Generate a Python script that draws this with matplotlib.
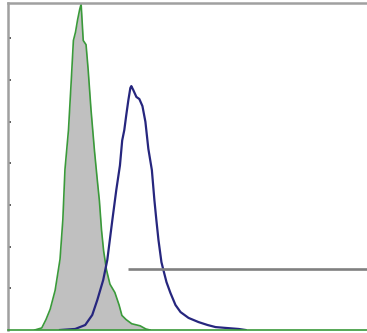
import numpy as np
import matplotlib.pyplot as plt

# Istogramma di citometria: controllo isotipico (verde, riempito) e campione (blu)
control_ch = [19, 24, 27, 30, 33.5, 37, 39, 40.5, 43, 45, 46.5, 48, 49.5, 51, 52,
              53.5, 55.5, 57, 59, 61.5, 63.5, 65, 66.5, 68, 70, 72.5, 76, 79,
              81, 84, 88, 94, 98, 101]
control_cnt = [0, 1, 5, 10, 19, 34, 53, 77, 96, 120, 139, 143, 149, 154, 156.5,
               139, 137, 125, 106, 86, 72, 62, 48, 38, 29, 22, 18, 12,
               7, 5, 3, 2, 0.5, 0]

sample_ch = [37, 47.8, 54.9, 59.9, 63.5, 67.7, 70.6, 74.2, 77, 79.6, 81.2, 82.7,
             84.1, 85.6, 87, 87.7, 89.1, 91.3, 93.4, 95.6, 97.7, 99.8, 102.3,
             104.1, 105.5, 107, 109.1, 110.5, 112.7, 115.5, 119.1, 122.7, 128.4,
             135.5, 141.9, 147.6, 154.7, 164, 169]
sample_cnt = [0, 0.5, 2.4, 7.2, 14.4, 24, 33.6, 52.8, 67.2, 79, 91, 96,
              103.2, 110.4, 116.2, 117.1, 115.2, 111.9, 110.9, 107.5, 100, 87, 76.8,
              62.4, 52.8, 43.2, 32.6, 28.8, 23, 17.8, 12, 8.6, 5.8,
              3.8, 2.4, 1.4, 1, 0.5, 0]

gate_start = 85.6
gate_end = 256
gate_level = 29.3

fig = plt.figure(figsize=(3.67, 3.33), dpi=100)
ax = fig.add_axes([8 / 367, 3 / 333, 360 / 367, 327 / 333])

ax.fill_between(control_ch, control_cnt, 0, color='#c0c0c0', linewidth=0)
ax.plot(control_ch, control_cnt, color='#3a9a3a', linewidth=1.2,
        solid_joinstyle='round')
ax.plot(sample_ch, sample_cnt, color='#26267e', linewidth=1.6,
        solid_joinstyle='round')
ax.hlines(gate_level, gate_start, gate_end, color='#808080', linewidth=1.9)

ax.set_xlim(0, 256)
ax.set_ylim(0, 157)

ax.set_xticks([])
ax.set_yticks(np.arange(20, 141, 20))
ax.tick_params(axis='y', direction='in', length=2, width=1.2, color='#444444',
               labelleft=False)

ax.spines['right'].set_visible(False)
ax.spines['left'].set_color('#a0a0a0')
ax.spines['left'].set_linewidth(1.8)
ax.spines['top'].set_color('#a0a0a0')
ax.spines['top'].set_linewidth(1.8)
ax.spines['bottom'].set_color('#3a9a3a')
ax.spines['bottom'].set_linewidth(1.2)

fig.savefig('out.png', dpi=100)
